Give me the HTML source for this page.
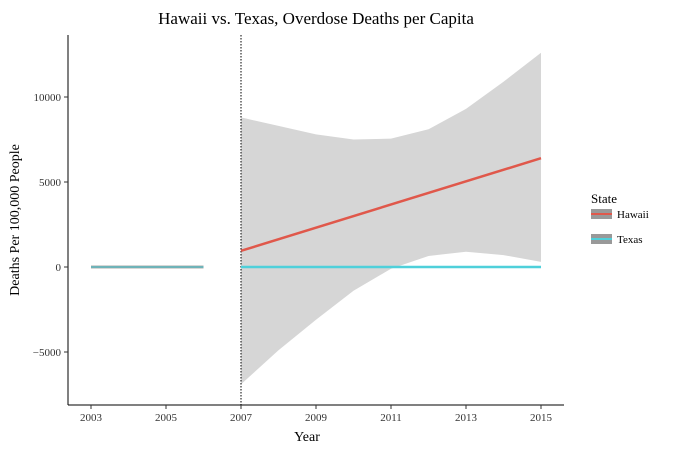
<!DOCTYPE html>
<html><head><meta charset="utf-8"><style>
body{margin:0;background:#fff;}
svg{display:block;font-family:"Liberation Serif",serif;}
</style></head><body>
<svg id="chart" width="679" height="453" viewBox="0 0 679 453" xmlns="http://www.w3.org/2000/svg">
<rect width="679" height="453" fill="#fff"/>
<text x="316" y="24" font-size="17" text-anchor="middle">Hawaii vs. Texas, Overdose Deaths per Capita</text>
<g id="plot"></g>
<line x1="68" y1="35" x2="68" y2="405" stroke="#000" stroke-width="1"/>
<line x1="68" y1="405" x2="564" y2="405" stroke="#000" stroke-width="1"/>
<text x="307" y="441" font-size="14" text-anchor="middle">Year</text>
<text transform="translate(19,220) rotate(-90)" font-size="14" text-anchor="middle">Deaths Per 100,000 People</text>
<g>
<text x="591" y="203" font-size="13">State</text>
<g>
<rect x="591" y="209" width="21" height="10" fill="#999"/>
<line x1="591" y1="214" x2="612" y2="214" stroke="#e0584b" stroke-width="2"/>
<text x="617" y="218" font-size="11">Hawaii</text></g>
<g>
<rect x="591" y="234" width="21" height="10" fill="#999"/>
<line x1="591" y1="239" x2="612" y2="239" stroke="#4fd0da" stroke-width="2"/>
<text x="617" y="243" font-size="11">Texas</text></g>
</g>
</svg>
<script>
const xTicks=[2003,2005,2007,2009,2011,2013,2015];
const yTicks=[-5000,0,5000,10000];
const yTickLabels=["\u22125000","0","5000","10000"];
const ribbonYears=[2007,2008,2009,2010,2011,2012,2013,2014,2015];
const ribbonUpper=[8800,8300,7800,7500,7550,8100,9300,10900,12600];
const ribbonLower=[-6900,-4900,-3100,-1400,-100,650,900,700,300];
const hawaiiYears=[2007,2015];
const hawaiiValues=[950,6400];
const texasYears=[2007,2015];
const texasValues=[0,0];
const earlyYears=[2003,2006];
const earlyValues=[0,0];
const cutoffYear=2007;

const X=y=>91+(y-2003)*37.5;
const Y=v=>267-v*85/5000;
const NS="http://www.w3.org/2000/svg";
const svg=document.getElementById('chart');
const g=document.getElementById('plot');
function mk(t,a,p){const e=document.createElementNS(NS,t);for(const k in a)e.setAttribute(k,a[k]);(p||g).appendChild(e);return e;}

xTicks.forEach(t=>{
  const l=mk('line',{x1:X(t),x2:X(t),y1:405,y2:409,stroke:'#333'},svg);
  
  
  const tx=mk('text',{x:X(t),y:421,'font-size':11,'text-anchor':'middle',fill:'#333'},svg);
  
  
  tx.textContent=t;
});
yTicks.forEach((t,i)=>{
  const l=mk('line',{x1:64,x2:68,y1:Y(t),y2:Y(t),stroke:'#333'},svg);
  
  
  const tx=mk('text',{x:61,y:Y(t)+4,'font-size':11,'text-anchor':'end',fill:'#333'},svg);
  
  
  tx.textContent=yTickLabels[i];
});

let d=ribbonYears.map((y,i)=>(i?'L':'M')+X(y)+','+Y(ribbonUpper[i])).join('');
for(let i=ribbonYears.length-1;i>=0;i--)d+='L'+X(ribbonYears[i])+','+Y(ribbonLower[i]);
const rib=mk('path',{d:d+'Z',fill:'#d6d6d6'});



const cut=mk('line',{x1:X(cutoffYear),x2:X(cutoffYear),y1:35,y2:405,stroke:'#000','stroke-dasharray':'1.5,1.5','stroke-width':1});



function line(xs,vs,c,name){
  const p=mk('path',{d:xs.map((y,i)=>(i?'L':'M')+X(y)+','+Y(vs[i])).join(''),stroke:c,'stroke-width':2.5,fill:'none'});
  
  
}
line(earlyYears,earlyValues,'#e0584b','hawaii-early-line');
line(earlyYears,earlyValues,'#6fb3b8','texas-early-line');
line(hawaiiYears,hawaiiValues,'#e0584b','hawaii-line');
line(texasYears,texasValues,'#4fd0da','texas-line');
</script>
</body></html>
